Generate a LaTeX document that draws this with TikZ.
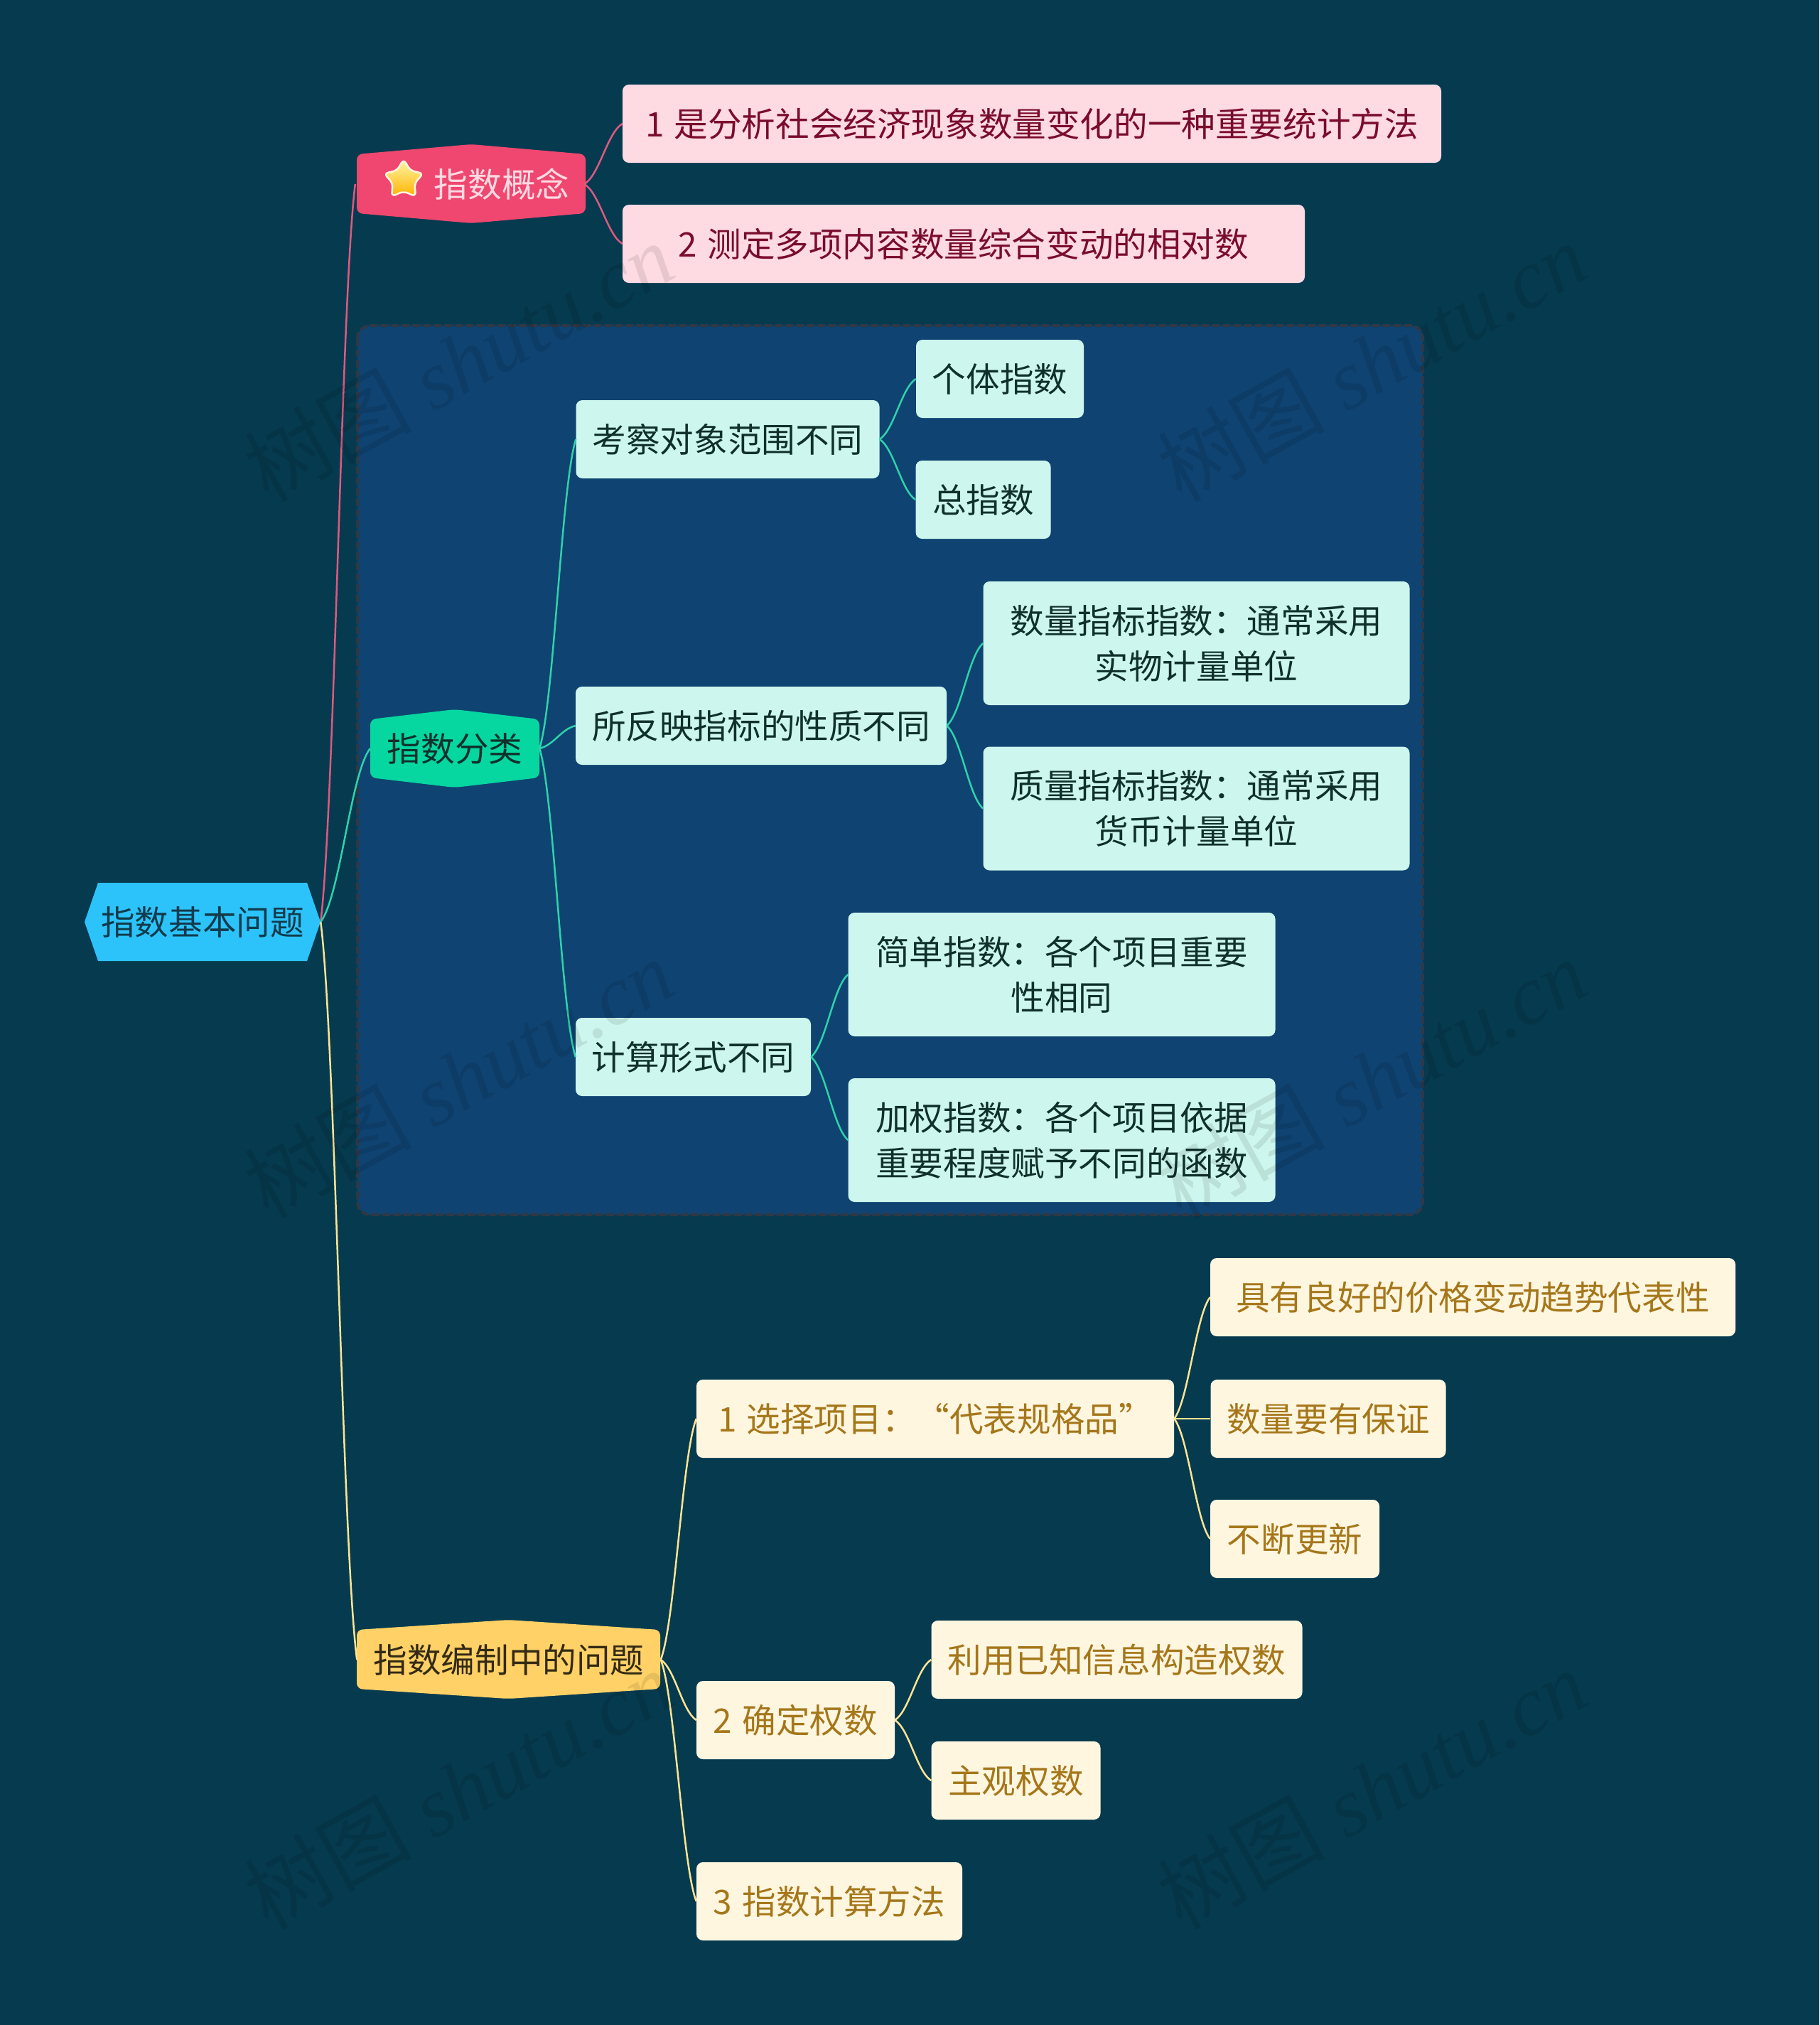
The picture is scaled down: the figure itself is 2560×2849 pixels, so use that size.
\documentclass[tikz,border=0pt]{standalone}
\usepackage{fontspec}
\setmainfont{Noto Sans CJK SC}
\newfontfamily\markfont{Liberation Serif}
\usetikzlibrary{calc,shapes.geometric}
\definecolor{bgdark}{HTML}{063A4F}
\definecolor{framefill}{HTML}{0F4371}
\definecolor{frameline}{HTML}{2F3845}
\definecolor{rootfill}{HTML}{2CC3FB}
\definecolor{rootink}{HTML}{123B4C}
\definecolor{pinkmain}{HTML}{EF476F}
\definecolor{pinkline}{HTML}{DC5A80}
\definecolor{pinkleaf}{HTML}{FEDAE3}
\definecolor{pinkink}{HTML}{7A0C2C}
\definecolor{greenmain}{HTML}{06D6A0}
\definecolor{greenline}{HTML}{2FD2AC}
\definecolor{greenleaf}{HTML}{CDF7EE}
\definecolor{greenink}{HTML}{10302C}
\definecolor{yellowmain}{HTML}{FFD166}
\definecolor{yellowline}{HTML}{FFE493}
\definecolor{yellowleaf}{HTML}{FFF6E0}
\definecolor{yellowink}{HTML}{A5771A}
\tikzset{
  txt/.style={font=\fontsize{47.6}{64}\selectfont, align=center, inner sep=0pt},
  mainbox/.style={txt, minimum height=110pt},
  leafbox/.style={txt, rounded corners=9pt, minimum height=110pt},
  pinknode/.style={leafbox, fill=pinkleaf, text=pinkink},
  greennode/.style={leafbox, fill=greenleaf, text=greenink},
  yellownode/.style={leafbox, fill=yellowleaf, text=yellowink}
}
% cubic branch from the east side of one node to the west side of another
\newcommand{\branch}[3]{%
  \draw[#3, line width=2.5pt] let \p1=(#1.east), \p2=(#2.west) in
    (\p1) .. controls (\x1+0.4*\x2-0.4*\x1, \y1+0.15*\y2-0.15*\y1)
    and (\x1+0.6*\x2-0.6*\x1, \y1+0.85*\y2-0.85*\y1) .. (\p2);
}
\newcommand{\numgap}{\hspace{0.3em}}
\begin{document}
\begin{tikzpicture}[x=1pt,y=-1pt]
\fill[bgdark] (0,0) rectangle (2560,2849);
\useasboundingbox (0,0) rectangle (2560,2849);
% Frame round the second branch
\draw[frameline, fill=framefill, line width=4pt, dash pattern=on 11pt off 4pt, rounded corners=18pt] (503,458) rectangle (2002,1709);
% Hexagon backgrounds
\fill[rootfill] (119,1297) -- (138,1242) -- (432,1242) -- (451,1297) -- (432,1352) -- (138,1352) -- cycle;
\foreach \lft/\rgt/\tp/\bt/\clr in {502/824/203/314/pinkmain,521/759/998/1108/greenmain,502/929/2279/2390/yellowmain} {
  \pgfmathsetmacro{\midx}{(\lft+\rgt)/2}
  \fill[\clr, rounded corners=8pt] (\lft,\tp+14) -- (\midx,\tp) -- (\rgt,\tp+14) -- (\rgt,\bt-14) -- (\midx,\bt) -- (\lft,\bt-14) -- cycle;
}
% Main topics
\node[mainbox, text=rootink, minimum width=332pt] (root) at (285,1297) {指数基本问题};
\node[mainbox, text=pinkleaf, minimum width=322pt] (concept) at (661,259) {\hspace{90pt}指数概念};
\node[mainbox, text=greenink, minimum width=238pt] (kinds) at (640,1053) {指数分类};
\node[mainbox, text=black!80!yellowmain, minimum width=427pt] (making) at (716,2335) {指数编制中的问题};
\node[star, star points=5, star point ratio=1.8, minimum size=58pt, inner sep=0pt, rounded corners=6pt, draw=yellowleaf, line width=2.5pt, top color=yellowmain!40!yellow!40!white, bottom color=orange!60!yellow] (icon) at (568,253) {};
% First branch
\node[pinknode, minimum width=1152pt] (p1) at (1452,174) {1\numgap 是分析社会经济现象数量变化的一种重要统计方法};
\node[pinknode, minimum width=960pt] (p2) at (1356,343) {2\numgap 测定多项内容数量综合变动的相对数};
% Second branch
\node[greennode, minimum width=427pt] (g1) at (1024,618) {考察对象范围不同};
\node[greennode, minimum width=236pt] (g11) at (1407,533) {个体指数};
\node[greennode, minimum width=190pt] (g12) at (1383.5,703) {总指数};
\node[greennode, minimum width=522pt] (g2) at (1071,1021) {所反映指标的性质不同};
\node[greennode, minimum width=600pt, minimum height=174pt] (g21) at (1683.5,905) {数量指标指数：通常采用\\实物计量单位};
\node[greennode, minimum width=600pt, minimum height=174pt] (g22) at (1683.5,1137.5) {质量指标指数：通常采用\\货币计量单位};
\node[greennode, minimum width=331pt] (g3) at (975.5,1487) {计算形式不同};
\node[greennode, minimum width=601pt, minimum height=174pt] (g31) at (1494,1371) {简单指数：各个项目重要\\性相同};
\node[greennode, minimum width=601pt, minimum height=174pt] (g32) at (1494,1604) {加权指数：各个项目依据\\重要程度赋予不同的函数};
% Third branch
\node[yellownode, minimum width=672pt] (y1) at (1316,1996) {1\numgap 选择项目：“代表规格品”};
\node[yellownode, minimum width=739pt] (y11) at (2072.5,1825) {具有良好的价格变动趋势代表性};
\node[yellownode, minimum width=331pt] (y12) at (1869,1996) {数量要有保证};
\node[yellownode, minimum width=238pt] (y13) at (1822,2165) {不断更新};
\node[yellownode, minimum width=279pt] (y2) at (1119.5,2420) {2\numgap 确定权数};
\node[yellownode, minimum width=522pt] (y21) at (1571.5,2335) {利用已知信息构造权数};
\node[yellownode, minimum width=238pt] (y22) at (1429.5,2505) {主观权数};
\node[yellownode, minimum width=374pt] (y3) at (1167,2675) {3\numgap 指数计算方法};
% Branch lines
\foreach \from/\to in {root/concept,concept/p1,concept/p2} {\branch{\from}{\to}{pinkline}}
\foreach \from/\to in {root/kinds,kinds/g1,kinds/g2,kinds/g3,g1/g11,g1/g12,g2/g21,g2/g22,g3/g31,g3/g32} {\branch{\from}{\to}{greenline}}
\foreach \from/\to in {root/making,making/y1,making/y2,making/y3,y1/y11,y1/y12,y1/y13,y2/y21,y2/y22} {\branch{\from}{\to}{yellowline}}
% Watermarks
\foreach \mx/\my in {645/509,1930/509,645/1517,1930/1517,645/2517,1930/2517} {
  \node[rotate=29, text=black, opacity=0.09, font=\fontsize{118}{118}\selectfont] (mark\mx\my) at (\mx,\my) {树图{\markfont\itshape\ shutu.cn}};
}
\end{tikzpicture}
\end{document}
